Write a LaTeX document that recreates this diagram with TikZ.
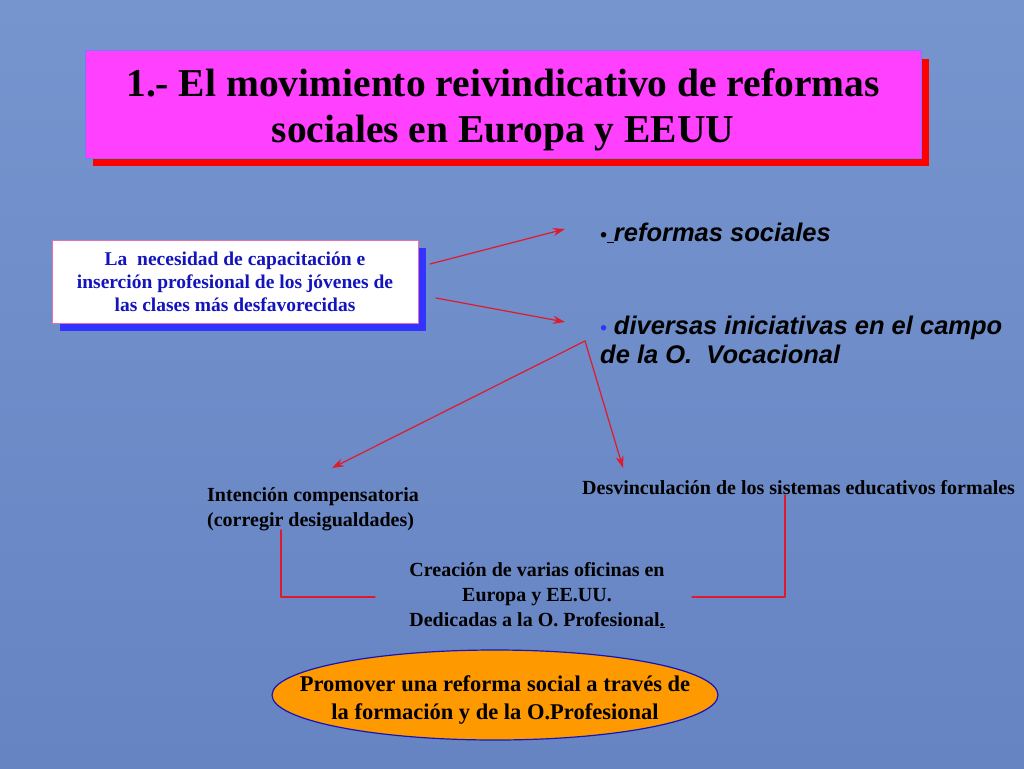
\documentclass[tikz,border=0pt]{standalone}
\usepackage{fontspec}
\setmainfont{Liberation Serif}
\newfontfamily\arialfont{Liberation Sans}
\usetikzlibrary{arrows.meta,shadows,positioning}
\definecolor{fondo}{RGB}{102,132,194}
\definecolor{fondoclaro}{RGB}{118,148,206}
\definecolor{rosa}{RGB}{255,64,255}
\definecolor{rosaborde}{RGB}{235,110,170}
\definecolor{azul}{RGB}{51,51,255}
\definecolor{azulclaro}{RGB}{120,120,255}
\definecolor{azultexto}{RGB}{20,20,190}
\definecolor{naranja}{RGB}{255,153,0}
\definecolor{rojo}{RGB}{225,25,45}
\newcommand\punto{{\fontsize{19}{29}\selectfont•}}
\begin{document}
\begin{tikzpicture}[x=1pt, y=-1pt, line join=round, line cap=round, >={Stealth[length=12pt,width=8pt]},
	flecha/.style={->, rojo, line width=1.2pt},
	linea/.style={rojo, line width=1.2pt},
	nota/.style={font=\bfseries\fontsize{20}{25}\selectfont, inner sep=0pt},
	bala/.style={font=\arialfont\bfseries\itshape\fontsize{25.5}{29}\selectfont, inner sep=0pt, align=left}]
	% fondo
	\shade[top color=fondoclaro, bottom color=fondo] (0,0) rectangle (1024,768);
	\useasboundingbox (0,0) rectangle (1024,768);
	\path (430,264) coordinate (A1)
	(565,229) coordinate (B1)
	(436,298) coordinate (A2)
	(565,322) coordinate (B2)
	(585,341) coordinate (S)
	(332,468) coordinate (T1)
	(623,468) coordinate (T2)
	(281,530) coordinate (I)
	(375,597) coordinate (C1)
	(785,495) coordinate (D)
	(692,597) coordinate (C2)
	(495,695) coordinate (E);
	% titulo
	\node[draw=azulclaro, fill=rosa, line width=1pt, minimum width=836pt, minimum height=107pt,
	general shadow={fill=red, shadow xshift=8pt, shadow yshift=-8pt}] (titulo) at (503,104.5) {};
	\node[align=center, inner sep=0pt, font=\bfseries\fontsize{39.5}{46}\selectfont] (titulotexto) at ([yshift=-5pt]titulo.center)
	{1.- El movimiento reivindicativo de reformas\\sociales en Europa y EEUU};
	% recuadro
	\node[draw=rosaborde, fill=white, line width=1pt, minimum width=366pt, minimum height=83pt,
	general shadow={fill=azul, shadow xshift=8pt, shadow yshift=-8pt},
	align=center, text=azultexto, font=\bfseries\fontsize{19.5}{23}\selectfont] (necesidad) at (235,281.5)
	{La \ necesidad de capacitación e\\inserción profesional de los jóvenes de\\las clases más desfavorecidas};
	\node[bala, anchor=base west] (reformas) at (600,241) {\punto\underline{\ }reformas sociales};
	\node[bala, anchor=base west] (diversas) at (600,363) {{\color{azul}\punto} diversas iniciativas en el campo\\de la O.\ \ Vocacional};
	\node[nota, anchor=base west, align=left] (intencion) at (207,526) {Intención compensatoria\\(corregir desigualdades)};
	\node[nota, anchor=base west] (desvinculacion) at (582,494) {Desvinculación de los sistemas educativos formales};
	\node[nota, anchor=base, align=center] (creacion) at (537,626) {Creación de varias oficinas en\\Europa y EE.UU.\\Dedicadas a la O. Profesional\underline{.}};
	% elipse
	\filldraw[draw=azultexto, fill=naranja, line width=1.2pt] (E) ellipse [x radius=223, y radius=45];
	\node[align=center, inner sep=0pt, font=\bfseries\fontsize{22.5}{28}\selectfont] (promover) at ([yshift=-5pt]E)
	{Promover una reforma social a través de\\la formación y de la O.Profesional};
	% flechas
	\draw[flecha] (A1)--(B1);
	\draw[flecha] (A2)--(B2);
	\draw[flecha] (S)--(T1);
	\draw[flecha] (S)--(T2);
	\draw[linea] (I) |- (C1);
	\draw[linea] (D) |- (C2);
\end{tikzpicture}
\end{document}
